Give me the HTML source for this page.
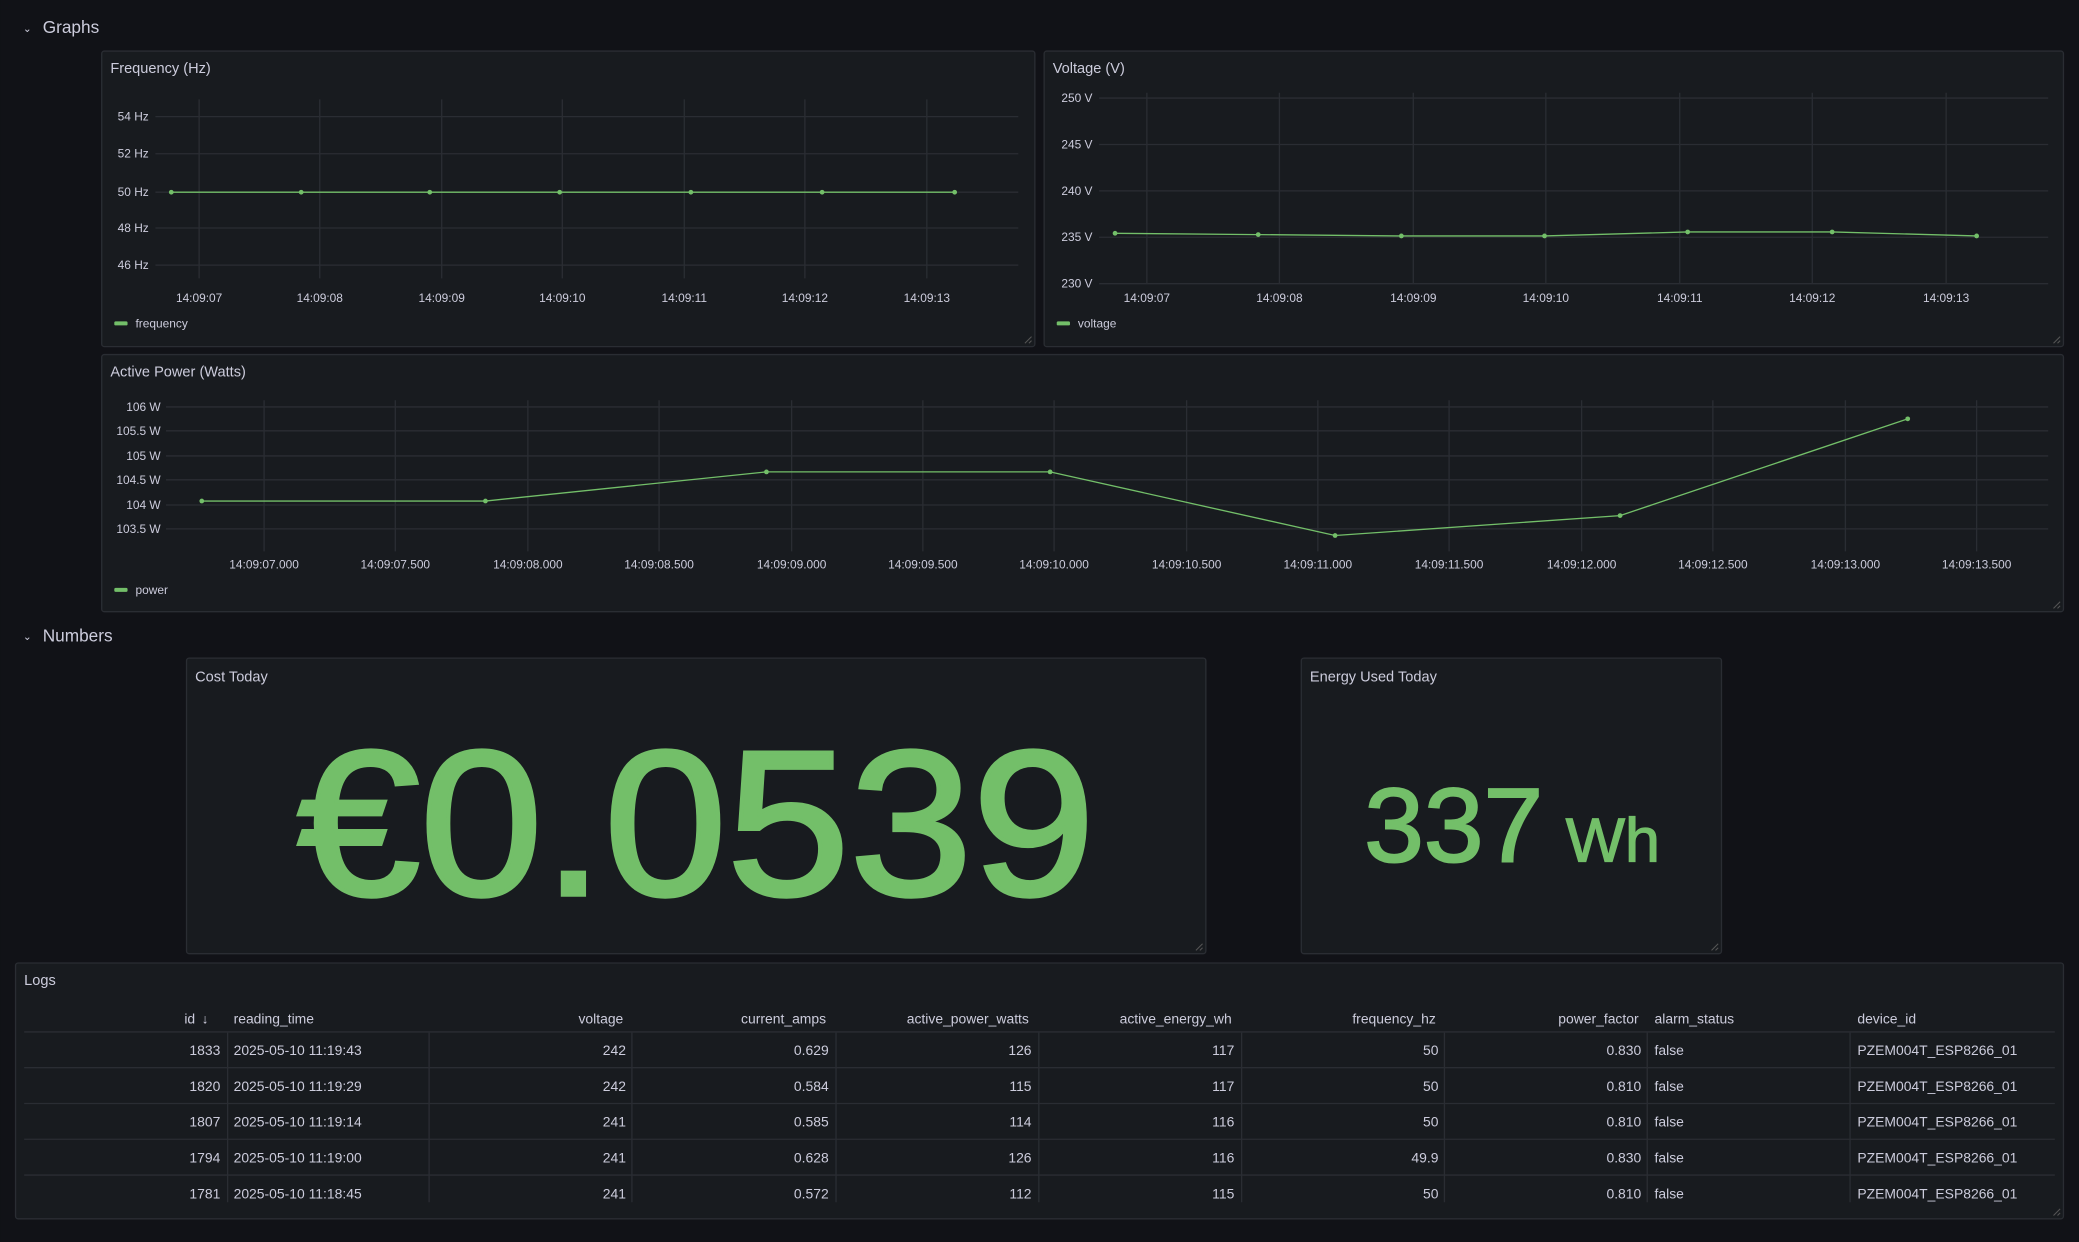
<!DOCTYPE html>
<html><head><meta charset="utf-8"><style>
html,body{margin:0;padding:0;background:#111217;width:2079px;height:1242px;overflow:hidden}
svg{display:block}
text{font-family:"Liberation Sans",sans-serif}
</style></head><body>
<svg width="2079" height="1242" viewBox="0 0 1568 937" xmlns="http://www.w3.org/2000/svg">
<rect x="0" y="0" width="1568" height="937" fill="#111217"/>
<text x="17" y="24" fill="#ccccdc" font-size="8">⌄</text>
<text x="32" y="25" fill="#ccccdc" font-size="13">Graphs</text>
<text x="17" y="483" fill="#ccccdc" font-size="8">⌄</text>
<text x="32" y="484" fill="#ccccdc" font-size="13">Numbers</text>

<g fill="#181b1f" stroke="#2a2d33" stroke-width="1">
<rect x="76.5" y="38.5" width="704" height="223" rx="2"/>
<rect x="787.5" y="38.5" width="769" height="223" rx="2"/>
<rect x="76.5" y="267.5" width="1480" height="194" rx="2"/>
<rect x="140.5" y="496.5" width="769" height="223" rx="2"/>
<rect x="981.5" y="496.5" width="317" height="223" rx="2"/>
<rect x="11.5" y="726.5" width="1545" height="193" rx="2"/>
</g>
<g fill="#ccccdc" font-size="11">
<text x="83" y="55">Frequency (Hz)</text>
<text x="794" y="55">Voltage (V)</text>
<text x="83" y="284">Active Power (Watts)</text>
<text x="147" y="514">Cost Today</text>
<text x="988" y="514">Energy Used Today</text>
<text x="18" y="743">Logs</text>
</g>

<g stroke="#2a2d33" stroke-width="1">
<line x1="117" y1="88" x2="768" y2="88"/><line x1="117" y1="116" x2="768" y2="116"/><line x1="117" y1="145" x2="768" y2="145"/><line x1="117" y1="172" x2="768" y2="172"/><line x1="117" y1="200" x2="768" y2="200"/>
<line x1="150" y1="75" x2="150" y2="210"/><line x1="241" y1="75" x2="241" y2="210"/><line x1="333" y1="75" x2="333" y2="210"/><line x1="424" y1="75" x2="424" y2="210"/><line x1="516" y1="75" x2="516" y2="210"/><line x1="607" y1="75" x2="607" y2="210"/><line x1="699" y1="75" x2="699" y2="210"/>
</g>
<g fill="#ccccdc" font-size="9" text-anchor="end">
<text x="112" y="91">54 Hz</text><text x="112" y="119">52 Hz</text><text x="112" y="148">50 Hz</text><text x="112" y="175">48 Hz</text><text x="112" y="203">46 Hz</text>
</g>
<g fill="#ccccdc" font-size="9" text-anchor="middle">
<text x="150" y="228">14:09:07</text><text x="241" y="228">14:09:08</text><text x="333" y="228">14:09:09</text><text x="424" y="228">14:09:10</text><text x="516" y="228">14:09:11</text><text x="607" y="228">14:09:12</text><text x="699" y="228">14:09:13</text>
</g>
<polyline points="129,145 227,145 324,145 422,145 521,145 620,145 720,145" fill="none" stroke="#73bf69" stroke-width="1"/>
<g fill="#73bf69"><circle cx="129" cy="145" r="1.8"/><circle cx="227" cy="145" r="1.8"/><circle cx="324" cy="145" r="1.8"/><circle cx="422" cy="145" r="1.8"/><circle cx="521" cy="145" r="1.8"/><circle cx="620" cy="145" r="1.8"/><circle cx="720" cy="145" r="1.8"/></g>
<rect x="86" y="242.5" width="10" height="3" rx="1" fill="#73bf69"/>
<text x="102" y="247" fill="#ccccdc" font-size="9">frequency</text>

<g stroke="#2a2d33" stroke-width="1">
<line x1="829" y1="74" x2="1545" y2="74"/><line x1="829" y1="109" x2="1545" y2="109"/><line x1="829" y1="144" x2="1545" y2="144"/><line x1="829" y1="179" x2="1545" y2="179"/><line x1="829" y1="214" x2="1545" y2="214"/>
<line x1="865" y1="70" x2="865" y2="214"/><line x1="965" y1="70" x2="965" y2="214"/><line x1="1066" y1="70" x2="1066" y2="214"/><line x1="1166" y1="70" x2="1166" y2="214"/><line x1="1267" y1="70" x2="1267" y2="214"/><line x1="1367" y1="70" x2="1367" y2="214"/><line x1="1468" y1="70" x2="1468" y2="214"/>
</g>
<g fill="#ccccdc" font-size="9" text-anchor="end">
<text x="824" y="77">250 V</text><text x="824" y="112">245 V</text><text x="824" y="147">240 V</text><text x="824" y="182">235 V</text><text x="824" y="217">230 V</text>
</g>
<g fill="#ccccdc" font-size="9" text-anchor="middle">
<text x="865" y="228">14:09:07</text><text x="965" y="228">14:09:08</text><text x="1066" y="228">14:09:09</text><text x="1166" y="228">14:09:10</text><text x="1267" y="228">14:09:11</text><text x="1367" y="228">14:09:12</text><text x="1468" y="228">14:09:13</text>
</g>
<polyline points="841,176 949,177 1057,178 1165,178 1273,175 1382,175 1491,178" fill="none" stroke="#73bf69" stroke-width="1"/>
<g fill="#73bf69"><circle cx="841" cy="176" r="1.8"/><circle cx="949" cy="177" r="1.8"/><circle cx="1057" cy="178" r="1.8"/><circle cx="1165" cy="178" r="1.8"/><circle cx="1273" cy="175" r="1.8"/><circle cx="1382" cy="175" r="1.8"/><circle cx="1491" cy="178" r="1.8"/></g>
<rect x="797" y="242.5" width="10" height="3" rx="1" fill="#73bf69"/>
<text x="813" y="247" fill="#ccccdc" font-size="9">voltage</text>

<g stroke="#2a2d33" stroke-width="1">
<line x1="125" y1="307" x2="1545" y2="307"/><line x1="125" y1="325" x2="1545" y2="325"/><line x1="125" y1="344" x2="1545" y2="344"/><line x1="125" y1="362" x2="1545" y2="362"/><line x1="125" y1="381" x2="1545" y2="381"/><line x1="125" y1="399" x2="1545" y2="399"/>
<line x1="199" y1="302" x2="199" y2="416"/><line x1="298" y1="302" x2="298" y2="416"/><line x1="398" y1="302" x2="398" y2="416"/><line x1="497" y1="302" x2="497" y2="416"/><line x1="597" y1="302" x2="597" y2="416"/><line x1="696" y1="302" x2="696" y2="416"/><line x1="795" y1="302" x2="795" y2="416"/><line x1="895" y1="302" x2="895" y2="416"/><line x1="994" y1="302" x2="994" y2="416"/><line x1="1093" y1="302" x2="1093" y2="416"/><line x1="1193" y1="302" x2="1193" y2="416"/><line x1="1292" y1="302" x2="1292" y2="416"/><line x1="1392" y1="302" x2="1392" y2="416"/><line x1="1491" y1="302" x2="1491" y2="416"/>
</g>
<g fill="#ccccdc" font-size="9" text-anchor="end">
<text x="121" y="310">106 W</text><text x="121" y="328">105.5 W</text><text x="121" y="347">105 W</text><text x="121" y="365">104.5 W</text><text x="121" y="384">104 W</text><text x="121" y="402">103.5 W</text>
</g>
<g fill="#ccccdc" font-size="9" text-anchor="middle">
<text x="199" y="429">14:09:07.000</text><text x="298" y="429">14:09:07.500</text><text x="398" y="429">14:09:08.000</text><text x="497" y="429">14:09:08.500</text><text x="597" y="429">14:09:09.000</text><text x="696" y="429">14:09:09.500</text><text x="795" y="429">14:09:10.000</text><text x="895" y="429">14:09:10.500</text><text x="994" y="429">14:09:11.000</text><text x="1093" y="429">14:09:11.500</text><text x="1193" y="429">14:09:12.000</text><text x="1292" y="429">14:09:12.500</text><text x="1392" y="429">14:09:13.000</text><text x="1491" y="429">14:09:13.500</text>
</g>
<polyline points="152,378 366,378 578,356 792,356 1007,404 1222,389 1439,316" fill="none" stroke="#73bf69" stroke-width="1"/>
<g fill="#73bf69"><circle cx="152" cy="378" r="1.8"/><circle cx="366" cy="378" r="1.8"/><circle cx="578" cy="356" r="1.8"/><circle cx="792" cy="356" r="1.8"/><circle cx="1007" cy="404" r="1.8"/><circle cx="1222" cy="389" r="1.8"/><circle cx="1439" cy="316" r="1.8"/></g>
<rect x="86" y="443.5" width="10" height="3" rx="1" fill="#73bf69"/>
<text x="102" y="448" fill="#ccccdc" font-size="9">power</text>

<text x="525" y="675" fill="#73bf69" stroke="#73bf69" stroke-width="3" font-size="156" text-anchor="middle" textLength="602" lengthAdjust="spacingAndGlyphs">€0.0539</text>
<text x="1029" y="650" fill="#73bf69" stroke="#73bf69" stroke-width="1.5" font-size="79" textLength="135" lengthAdjust="spacingAndGlyphs">337</text>
<text x="1181" y="650" fill="#73bf69" stroke="#73bf69" stroke-width="1" font-size="47" textLength="71" lengthAdjust="spacingAndGlyphs">Wh</text>

<g fill="#ccccdc" font-size="10.5">
<text x="147" y="772" text-anchor="end">id</text><text x="152" y="772" font-size="10">↓</text>
<text x="176" y="772">reading_time</text>
<text x="470" y="772" text-anchor="end">voltage</text>
<text x="623" y="772" text-anchor="end">current_amps</text>
<text x="776" y="772" text-anchor="end">active_power_watts</text>
<text x="929" y="772" text-anchor="end">active_energy_wh</text>
<text x="1083" y="772" text-anchor="end">frequency_hz</text>
<text x="1236" y="772" text-anchor="end">power_factor</text>
<text x="1248" y="772">alarm_status</text>
<text x="1401" y="772">device_id</text>
</g>
<g stroke="#2a2d33" stroke-width="1">
<line x1="18" y1="778.5" x2="1550" y2="778.5"/>
<line x1="18" y1="805.5" x2="1550" y2="805.5"/>
<line x1="18" y1="832.5" x2="1550" y2="832.5"/>
<line x1="18" y1="859.5" x2="1550" y2="859.5"/>
<line x1="18" y1="886.5" x2="1550" y2="886.5"/>
<line x1="171.5" y1="779" x2="171.5" y2="907"/><line x1="323.5" y1="779" x2="323.5" y2="907"/><line x1="476.5" y1="779" x2="476.5" y2="907"/><line x1="630.5" y1="779" x2="630.5" y2="907"/><line x1="783.5" y1="779" x2="783.5" y2="907"/><line x1="936.5" y1="779" x2="936.5" y2="907"/><line x1="1089.5" y1="779" x2="1089.5" y2="907"/><line x1="1242.5" y1="779" x2="1242.5" y2="907"/><line x1="1395.5" y1="779" x2="1395.5" y2="907"/>
</g>
<g fill="#ccccdc" font-size="10.5">
<g transform="translate(0,796)">
<text x="166" text-anchor="end">1833</text><text x="176">2025-05-10 11:19:43</text><text x="472" text-anchor="end">242</text><text x="625" text-anchor="end">0.629</text><text x="778" text-anchor="end">126</text><text x="931" text-anchor="end">117</text><text x="1085" text-anchor="end">50</text><text x="1238" text-anchor="end">0.830</text><text x="1248">false</text><text x="1401">PZEM004T_ESP8266_01</text>
</g>
<g transform="translate(0,823)">
<text x="166" text-anchor="end">1820</text><text x="176">2025-05-10 11:19:29</text><text x="472" text-anchor="end">242</text><text x="625" text-anchor="end">0.584</text><text x="778" text-anchor="end">115</text><text x="931" text-anchor="end">117</text><text x="1085" text-anchor="end">50</text><text x="1238" text-anchor="end">0.810</text><text x="1248">false</text><text x="1401">PZEM004T_ESP8266_01</text>
</g>
<g transform="translate(0,850)">
<text x="166" text-anchor="end">1807</text><text x="176">2025-05-10 11:19:14</text><text x="472" text-anchor="end">241</text><text x="625" text-anchor="end">0.585</text><text x="778" text-anchor="end">114</text><text x="931" text-anchor="end">116</text><text x="1085" text-anchor="end">50</text><text x="1238" text-anchor="end">0.810</text><text x="1248">false</text><text x="1401">PZEM004T_ESP8266_01</text>
</g>
<g transform="translate(0,877)">
<text x="166" text-anchor="end">1794</text><text x="176">2025-05-10 11:19:00</text><text x="472" text-anchor="end">241</text><text x="625" text-anchor="end">0.628</text><text x="778" text-anchor="end">126</text><text x="931" text-anchor="end">116</text><text x="1085" text-anchor="end">49.9</text><text x="1238" text-anchor="end">0.830</text><text x="1248">false</text><text x="1401">PZEM004T_ESP8266_01</text>
</g>
<g transform="translate(0,904)">
<text x="166" text-anchor="end">1781</text><text x="176">2025-05-10 11:18:45</text><text x="472" text-anchor="end">241</text><text x="625" text-anchor="end">0.572</text><text x="778" text-anchor="end">112</text><text x="931" text-anchor="end">115</text><text x="1085" text-anchor="end">50</text><text x="1238" text-anchor="end">0.810</text><text x="1248">false</text><text x="1401">PZEM004T_ESP8266_01</text>
</g>
</g>
<g stroke="#555" stroke-width="0.8">
<line x1="773" y1="259" x2="778" y2="254"/><line x1="776" y1="259" x2="778" y2="257"/>
<line x1="1549" y1="259" x2="1554" y2="254"/><line x1="1552" y1="259" x2="1554" y2="257"/>
<line x1="1549" y1="459" x2="1554" y2="454"/><line x1="1552" y1="459" x2="1554" y2="457"/>
<line x1="902" y1="717" x2="907" y2="712"/><line x1="905" y1="717" x2="907" y2="715"/>
<line x1="1291" y1="717" x2="1296" y2="712"/><line x1="1294" y1="717" x2="1296" y2="715"/>
<line x1="1549" y1="917" x2="1554" y2="912"/><line x1="1552" y1="917" x2="1554" y2="915"/>
</g>
</svg>
</body></html>
